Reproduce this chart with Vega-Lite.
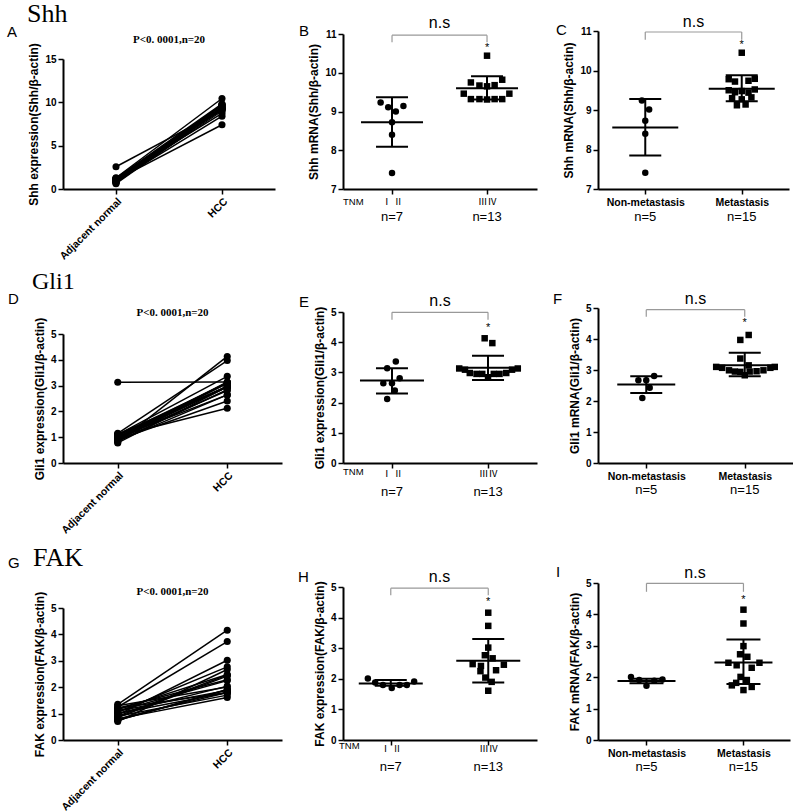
{
"$schema":"https://vega.github.io/schema/vega-lite/v6.json",
"background":"white",
"padding":{"left":7,"top":0,"right":0,"bottom":12},
"config":{
 "view":{"stroke":null},
 "font":"Liberation Sans",
 "axis":{"grid":false,"domainColor":"black","domainWidth":2,"tickColor":"black","tickWidth":1.5,"tickSize":5,"labelFont":"Liberation Sans","labelFontWeight":"bold","labelFontSize":10,"labelColor":"black","titleFont":"Liberation Sans","titleFontWeight":"bold","titleFontSize":12,"titleColor":"black","labelFlush":false,"labelOverlap":false,"labelBound":false,"titlePadding":4},
 "axisY":{"labelOverlap":false},
 "text":{"color":"black"}
},
"datasets":{
 "shhPair":[
  {"id":1,"g":0,"v":1.05},{"id":2,"g":0,"v":0.9},{"id":3,"g":0,"v":1.2},{"id":4,"g":0,"v":0.75},{"id":5,"g":0,"v":2.57},{"id":6,"g":0,"v":1.1},{"id":7,"g":0,"v":0.62},{"id":8,"g":0,"v":1.3},{"id":9,"g":0,"v":1.0},{"id":10,"g":0,"v":0.85},{"id":11,"g":0,"v":1.15},{"id":12,"g":0,"v":0.95},{"id":13,"g":0,"v":1.25},{"id":14,"g":0,"v":0.7},{"id":15,"g":0,"v":1.1},{"id":16,"g":0,"v":0.8},{"id":17,"g":0,"v":1.2},{"id":18,"g":0,"v":1.0},{"id":19,"g":0,"v":0.9},{"id":20,"g":0,"v":1.05},
  {"id":1,"g":1,"v":7.41},{"id":2,"g":1,"v":8.4},{"id":3,"g":1,"v":8.72},{"id":4,"g":1,"v":9.0},{"id":5,"g":1,"v":9.11},{"id":6,"g":1,"v":9.14},{"id":7,"g":1,"v":9.23},{"id":8,"g":1,"v":10.44},{"id":9,"g":1,"v":9.75},{"id":10,"g":1,"v":9.67},{"id":11,"g":1,"v":9.65},{"id":12,"g":1,"v":9.68},{"id":13,"g":1,"v":9.82},{"id":14,"g":1,"v":9.46},{"id":15,"g":1,"v":9.46},{"id":16,"g":1,"v":9.32},{"id":17,"g":1,"v":9.32},{"id":18,"g":1,"v":9.31},{"id":19,"g":1,"v":9.32},{"id":20,"g":1,"v":9.32}],
 "gliPair":[
  {"id":1,"g":0,"v":1.1},{"id":2,"g":0,"v":3.13},{"id":3,"g":0,"v":0.95},{"id":4,"g":0,"v":0.85},{"id":5,"g":0,"v":1.0},{"id":6,"g":0,"v":0.9},{"id":7,"g":0,"v":1.05},{"id":8,"g":0,"v":0.8},{"id":9,"g":0,"v":1.15},{"id":10,"g":0,"v":1.0},{"id":11,"g":0,"v":0.92},{"id":12,"g":0,"v":1.08},{"id":13,"g":0,"v":0.88},{"id":14,"g":0,"v":0.97},{"id":15,"g":0,"v":1.12},{"id":16,"g":0,"v":0.78},{"id":17,"g":0,"v":1.02},{"id":18,"g":0,"v":0.93},{"id":19,"g":0,"v":1.06},{"id":20,"g":0,"v":0.86},
  {"id":1,"g":1,"v":3.36},{"id":2,"g":1,"v":3.14},{"id":3,"g":1,"v":2.81},{"id":4,"g":1,"v":2.64},{"id":5,"g":1,"v":2.64},{"id":6,"g":1,"v":2.4},{"id":7,"g":1,"v":2.12},{"id":8,"g":1,"v":4.13},{"id":9,"g":1,"v":3.97},{"id":10,"g":1,"v":3.13},{"id":11,"g":1,"v":3.09},{"id":12,"g":1,"v":3.09},{"id":13,"g":1,"v":3.13},{"id":14,"g":1,"v":2.98},{"id":15,"g":1,"v":2.95},{"id":16,"g":1,"v":2.95},{"id":17,"g":1,"v":2.95},{"id":18,"g":1,"v":2.95},{"id":19,"g":1,"v":2.98},{"id":20,"g":1,"v":2.84}],
 "fakPair":[
  {"id":1,"g":0,"v":1.3},{"id":2,"g":0,"v":0.75},{"id":3,"g":0,"v":1.0},{"id":4,"g":0,"v":0.9},{"id":5,"g":0,"v":1.2},{"id":6,"g":0,"v":0.8},{"id":7,"g":0,"v":1.1},{"id":8,"g":0,"v":1.35},{"id":9,"g":0,"v":1.25},{"id":10,"g":0,"v":0.95},{"id":11,"g":0,"v":1.05},{"id":12,"g":0,"v":0.7},{"id":13,"g":0,"v":1.15},{"id":14,"g":0,"v":0.85},{"id":15,"g":0,"v":1.2},{"id":16,"g":0,"v":0.9},{"id":17,"g":0,"v":1.0},{"id":18,"g":0,"v":0.75},{"id":19,"g":0,"v":1.1},{"id":20,"g":0,"v":0.8},
  {"id":1,"g":1,"v":2.01},{"id":2,"g":1,"v":1.91},{"id":3,"g":1,"v":1.8},{"id":4,"g":1,"v":1.7},{"id":5,"g":1,"v":1.8},{"id":6,"g":1,"v":1.8},{"id":7,"g":1,"v":1.88},{"id":8,"g":1,"v":4.16},{"id":9,"g":1,"v":3.73},{"id":10,"g":1,"v":3.02},{"id":11,"g":1,"v":2.77},{"id":12,"g":1,"v":2.67},{"id":13,"g":1,"v":2.48},{"id":14,"g":1,"v":2.42},{"id":15,"g":1,"v":2.28},{"id":16,"g":1,"v":2.46},{"id":17,"g":1,"v":2.04},{"id":18,"g":1,"v":1.9},{"id":19,"g":1,"v":2.25},{"id":20,"g":1,"v":1.61}],
 "shhTNM":[
  {"x":-0.12,"v":9.23,"grp":"a"},{"x":-0.04,"v":9.11,"grp":"a"},{"x":0.12,"v":9.14,"grp":"a"},{"x":0.04,"v":9.0,"grp":"a"},{"x":0,"v":8.72,"grp":"a"},{"x":0,"v":8.4,"grp":"a"},{"x":0,"v":7.41,"grp":"a"},
  {"x":1.0,"v":10.44,"grp":"b"},{"x":0.83,"v":9.75,"grp":"b"},{"x":0.92,"v":9.67,"grp":"b"},{"x":1.0,"v":9.65,"grp":"b"},{"x":1.08,"v":9.68,"grp":"b"},{"x":1.16,"v":9.82,"grp":"b"},{"x":0.755,"v":9.46,"grp":"b"},{"x":1.235,"v":9.46,"grp":"b"},{"x":0.83,"v":9.32,"grp":"b"},{"x":0.92,"v":9.32,"grp":"b"},{"x":1.0,"v":9.31,"grp":"b"},{"x":1.08,"v":9.32,"grp":"b"},{"x":1.16,"v":9.32,"grp":"b"}],
 "shhMet":[
  {"x":-0.035,"v":9.24,"grp":"a"},{"x":0.04,"v":9.01,"grp":"a"},{"x":0,"v":8.73,"grp":"a"},{"x":0,"v":8.4,"grp":"a"},{"x":0,"v":7.41,"grp":"a"},
  {"x":1.0,"v":10.45,"grp":"b"},{"x":0.865,"v":9.78,"grp":"b"},{"x":0.93,"v":9.72,"grp":"b"},{"x":1.07,"v":9.74,"grp":"b"},{"x":1.135,"v":9.79,"grp":"b"},{"x":0.865,"v":9.5,"grp":"b"},{"x":0.93,"v":9.45,"grp":"b"},{"x":1.0,"v":9.48,"grp":"b"},{"x":1.07,"v":9.44,"grp":"b"},{"x":1.135,"v":9.52,"grp":"b"},{"x":0.9,"v":9.3,"grp":"b"},{"x":1.0,"v":9.27,"grp":"b"},{"x":1.1,"v":9.32,"grp":"b"},{"x":0.95,"v":9.12,"grp":"b"},{"x":1.04,"v":9.14,"grp":"b"}],
 "gliTNM":[
  {"x":0.04,"v":3.36,"grp":"a"},{"x":-0.05,"v":3.14,"grp":"a"},{"x":0.08,"v":2.81,"grp":"a"},{"x":-0.09,"v":2.64,"grp":"a"},{"x":0,"v":2.64,"grp":"a"},{"x":0.03,"v":2.4,"grp":"a"},{"x":-0.05,"v":2.12,"grp":"a"},
  {"x":0.965,"v":4.13,"grp":"b"},{"x":1.045,"v":3.97,"grp":"b"},{"x":0.7,"v":3.13,"grp":"b"},{"x":0.76,"v":3.09,"grp":"b"},{"x":1.25,"v":3.09,"grp":"b"},{"x":1.31,"v":3.13,"grp":"b"},{"x":0.81,"v":2.98,"grp":"b"},{"x":0.88,"v":2.95,"grp":"b"},{"x":0.94,"v":2.95,"grp":"b"},{"x":1.06,"v":2.95,"grp":"b"},{"x":1.12,"v":2.95,"grp":"b"},{"x":1.19,"v":2.98,"grp":"b"},{"x":1.0,"v":2.84,"grp":"b"}],
 "gliMet":[
  {"x":0.08,"v":2.81,"grp":"a"},{"x":-0.08,"v":2.67,"grp":"a"},{"x":0,"v":2.67,"grp":"a"},{"x":0.035,"v":2.43,"grp":"a"},{"x":-0.04,"v":2.1,"grp":"a"},
  {"x":1.04,"v":4.13,"grp":"b"},{"x":0.955,"v":3.97,"grp":"b"},{"x":0.955,"v":3.37,"grp":"b"},{"x":1.04,"v":3.15,"grp":"b"},{"x":0.71,"v":3.1,"grp":"b"},{"x":0.77,"v":3.07,"grp":"b"},{"x":1.26,"v":3.07,"grp":"b"},{"x":1.305,"v":3.1,"grp":"b"},{"x":0.84,"v":2.99,"grp":"b"},{"x":0.9,"v":2.95,"grp":"b"},{"x":0.955,"v":2.94,"grp":"b"},{"x":1.05,"v":2.95,"grp":"b"},{"x":1.12,"v":2.96,"grp":"b"},{"x":1.19,"v":2.99,"grp":"b"},{"x":1.0,"v":2.83,"grp":"b"}],
 "fakTNM":[
  {"x":-0.235,"v":2.01,"grp":"a"},{"x":-0.16,"v":1.88,"grp":"a"},{"x":-0.08,"v":1.8,"grp":"a"},{"x":0.01,"v":1.7,"grp":"a"},{"x":0.09,"v":1.8,"grp":"a"},{"x":0.165,"v":1.8,"grp":"a"},{"x":0.24,"v":1.91,"grp":"a"},
  {"x":1.0,"v":4.16,"grp":"b"},{"x":1.0,"v":3.73,"grp":"b"},{"x":1.0,"v":3.02,"grp":"b"},{"x":0.965,"v":2.77,"grp":"b"},{"x":1.045,"v":2.67,"grp":"b"},{"x":0.84,"v":2.48,"grp":"b"},{"x":0.925,"v":2.42,"grp":"b"},{"x":1.08,"v":2.28,"grp":"b"},{"x":1.16,"v":2.46,"grp":"b"},{"x":0.97,"v":2.04,"grp":"b"},{"x":1.035,"v":1.9,"grp":"b"},{"x":0.92,"v":2.25,"grp":"b"},{"x":1.0,"v":1.61,"grp":"b"}],
 "fakMet":[
  {"x":-0.16,"v":2.01,"grp":"a"},{"x":-0.075,"v":1.91,"grp":"a"},{"x":0,"v":1.73,"grp":"a"},{"x":0.08,"v":1.89,"grp":"a"},{"x":0.165,"v":1.93,"grp":"a"},
  {"x":1.0,"v":4.15,"grp":"b"},{"x":1.0,"v":3.71,"grp":"b"},{"x":1.0,"v":2.99,"grp":"b"},{"x":0.965,"v":2.73,"grp":"b"},{"x":1.04,"v":2.65,"grp":"b"},{"x":0.845,"v":2.46,"grp":"b"},{"x":0.93,"v":2.38,"grp":"b"},{"x":1.085,"v":2.3,"grp":"b"},{"x":1.165,"v":2.46,"grp":"b"},{"x":0.97,"v":2.01,"grp":"b"},{"x":1.035,"v":1.91,"grp":"b"},{"x":0.925,"v":1.82,"grp":"b"},{"x":1.085,"v":1.69,"grp":"b"},{"x":1.0,"v":1.59,"grp":"b"},{"x":0.88,"v":1.74,"grp":"b"}],
 "shhTNMsum":[{"g":0,"mean":8.72,"lo":8.09,"hi":9.37},{"g":1,"mean":9.6,"lo":9.31,"hi":9.91}],
 "shhMetSum":[{"g":0,"mean":8.56,"lo":7.85,"hi":9.28},{"g":1,"mean":9.54,"lo":9.22,"hi":9.88}],
 "gliTNMsum":[{"g":0,"mean":2.73,"lo":2.3,"hi":3.14},{"g":1,"mean":3.15,"lo":2.75,"hi":3.55}],
 "gliMetSum":[{"g":0,"mean":2.53,"lo":2.26,"hi":2.8},{"g":1,"mean":3.15,"lo":2.8,"hi":3.56}],
 "fakTNMsum":[{"g":0,"mean":1.85,"lo":1.77,"hi":1.96},{"g":1,"mean":2.59,"lo":1.88,"hi":3.3}],
 "fakMetSum":[{"g":0,"mean":1.88,"lo":1.81,"hi":1.95},{"g":1,"mean":2.47,"lo":1.78,"hi":3.2}],
 "tnmN":[{"x":0,"t":"n=7"},{"x":1,"t":"n=13"}],
 "metN":[{"x":0,"t":"n=5"},{"x":1,"t":"n=15"}],
 "one":[{}]
},
"columns":3,
"align":"none",
"bounds":"flush",
"spacing":{"row":119,"column":61},
"concat":[
 {"width":212,"height":158,
  "layer":[
   {"data":{"name":"shhPair"},"mark":{"type":"line","color":"black","strokeWidth":1.5},
    "encoding":{"x":{"field":"g","type":"quantitative","scale":{"domain":[-0.5,1.5],"nice":false},"axis":{"title":null,"values":[0,1],"labelExpr":"datum.value == 0 ? 'Adjacent normal' : 'HCC'","labelAngle":-45,"labelAlign":"right","labelBaseline":"top","labelFontSize":10.5,"labelPadding":2}},
     "y":{"field":"v","type":"quantitative","scale":{"domain":[0,15],"range":[158,28],"nice":false},"axis":{"title":"Shh expression(Shh/β-actin)","values":[0,5,10,15],"tickCount":4,"labelOverlap":false}},
     "detail":{"field":"id","type":"nominal"}}},
   {"data":{"name":"shhPair"},"mark":{"type":"point","shape":"circle","filled":true,"color":"black","size":50,"opacity":1},
    "encoding":{"x":{"field":"g","type":"quantitative"},"y":{"field":"v","type":"quantitative"}}},
   {"data":{"name":"one"},"mark":{"type":"text","text":"P<0. 0001,n=20","font":"Liberation Serif","fontWeight":"bold","fontSize":11,"baseline":"alphabetic"},
    "encoding":{"x":{"datum":0.5},"y":{"datum":16.85}}},
   {"data":{"name":"one"},"mark":{"type":"text","text":"Shh","font":"Liberation Serif","fontSize":26,"align":"left","baseline":"alphabetic"},
    "encoding":{"x":{"datum":-0.84},"y":{"datum":19.27}}},
   {"data":{"name":"one"},"mark":{"type":"text","text":"A","font":"Liberation Sans","fontSize":15,"align":"left","baseline":"alphabetic"},
    "encoding":{"x":{"datum":-1.028},"y":{"datum":17.54}}}
  ]},
 {"width":194,"height":158,
  "layer":[
   {"data":{"name":"shhTNM"},"mark":{"type":"point","filled":true,"color":"black","size":42,"opacity":1},
    "encoding":{"x":{"field":"x","type":"quantitative","scale":{"domain":[-0.516,1.526],"nice":false},"axis":{"title":null,"values":[0,1],"labelExpr":"datum.value == 0 ? 'Ⅰ Ⅱ' : 'ⅢⅣ'","labelFont":"Noto Sans CJK SC","labelFontWeight":"normal","labelFontSize":9.5,"labelPadding":2}},
     "y":{"field":"v","type":"quantitative","scale":{"domain":[7,11],"range":[158,3],"nice":false,"zero":false},"axis":{"title":"Shh mRNA(Shh/β-actin)","values":[7,8,9,10,11],"tickCount":5,"labelOverlap":false}},
     "shape":{"field":"grp","type":"nominal","scale":{"domain":["a","b"],"range":["circle","square"]},"legend":null}}},
   {"data":{"name":"shhTNMsum"},"mark":{"type":"rule","color":"black","strokeWidth":2},"encoding":{"x":{"field":"g","type":"quantitative"},"y":{"field":"lo","type":"quantitative"},"y2":{"field":"hi"}}},
   {"data":{"name":"shhTNMsum"},"mark":{"type":"tick","orient":"horizontal","color":"black","size":62,"thickness":2,"opacity":1},"encoding":{"x":{"field":"g","type":"quantitative"},"y":{"field":"mean","type":"quantitative"}}},
   {"data":{"name":"shhTNMsum"},"mark":{"type":"tick","orient":"horizontal","color":"black","size":32,"thickness":2,"opacity":1},"encoding":{"x":{"field":"g","type":"quantitative"},"y":{"field":"lo","type":"quantitative"}}},
   {"data":{"name":"shhTNMsum"},"mark":{"type":"tick","orient":"horizontal","color":"black","size":32,"thickness":2,"opacity":1},"encoding":{"x":{"field":"g","type":"quantitative"},"y":{"field":"hi","type":"quantitative"}}},
   {"data":{"name":"one"},"mark":{"type":"rule","color":"#999999","strokeWidth":1.2},"encoding":{"x":{"datum":0},"x2":{"datum":1},"y":{"datum":10.97}}},
   {"data":{"name":"one"},"mark":{"type":"rule","color":"#999999","strokeWidth":1.2},"encoding":{"x":{"datum":0},"y":{"datum":10.79},"y2":{"datum":10.97}}},
   {"data":{"name":"one"},"mark":{"type":"rule","color":"#999999","strokeWidth":1.2},"encoding":{"x":{"datum":1},"y":{"datum":10.79},"y2":{"datum":10.97}}},
   {"data":{"name":"one"},"mark":{"type":"text","text":"n.s","font":"Liberation Sans","fontSize":16,"baseline":"alphabetic"},"encoding":{"x":{"datum":0.5},"y":{"datum":11.155}}},
   {"data":{"name":"one"},"mark":{"type":"text","text":"*","font":"Liberation Sans","fontSize":11,"baseline":"middle"},"encoding":{"x":{"datum":1},"y":{"datum":10.64}}},
   {"data":{"name":"tnmN"},"mark":{"type":"text","font":"Liberation Sans Narrow, Liberation Sans","fontSize":13,"baseline":"middle","dy":28},"encoding":{"x":{"field":"x","type":"quantitative"},"y":{"datum":7},"text":{"field":"t"}}},
   {"data":{"name":"one"},"mark":{"type":"text","text":"TNM","font":"Liberation Sans Narrow, Liberation Sans","fontSize":9.5,"align":"left","baseline":"middle","dx":0,"dy":13},"encoding":{"x":{"datum":-0.516},"y":{"datum":7}}},
   {"data":{"name":"one"},"mark":{"type":"text","text":"B","font":"Liberation Sans","fontSize":15,"align":"left","baseline":"alphabetic"},"encoding":{"x":{"datum":-0.979},"y":{"datum":10.948}}}
  ]},
 {"width":191,"height":158,
  "layer":[
   {"data":{"name":"shhMet"},"mark":{"type":"point","filled":true,"color":"black","size":42,"opacity":1},
    "encoding":{"x":{"field":"x","type":"quantitative","scale":{"domain":[-0.49,1.49],"nice":false},"axis":{"title":null,"values":[0,1],"labelExpr":"datum.value == 0 ? 'Non-metastasis' : 'Metastasis'","labelFont":"Liberation Sans Narrow, Liberation Sans","labelFontSize":10.5,"labelPadding":3}},
     "y":{"field":"v","type":"quantitative","scale":{"domain":[7,11],"range":[158,0],"nice":false,"zero":false},"axis":{"title":"Shh mRNA(Shh/β-actin)","values":[7,8,9,10,11],"tickCount":5,"labelOverlap":false}},
     "shape":{"field":"grp","type":"nominal","scale":{"domain":["a","b"],"range":["circle","square"]},"legend":null}}},
   {"data":{"name":"shhMetSum"},"mark":{"type":"rule","color":"black","strokeWidth":2},"encoding":{"x":{"field":"g","type":"quantitative"},"y":{"field":"lo","type":"quantitative"},"y2":{"field":"hi"}}},
   {"data":{"name":"shhMetSum"},"mark":{"type":"tick","orient":"horizontal","color":"black","size":66,"thickness":2,"opacity":1},"encoding":{"x":{"field":"g","type":"quantitative"},"y":{"field":"mean","type":"quantitative"}}},
   {"data":{"name":"shhMetSum"},"mark":{"type":"tick","orient":"horizontal","color":"black","size":32,"thickness":2,"opacity":1},"encoding":{"x":{"field":"g","type":"quantitative"},"y":{"field":"lo","type":"quantitative"}}},
   {"data":{"name":"shhMetSum"},"mark":{"type":"tick","orient":"horizontal","color":"black","size":32,"thickness":2,"opacity":1},"encoding":{"x":{"field":"g","type":"quantitative"},"y":{"field":"hi","type":"quantitative"}}},
   {"data":{"name":"one"},"mark":{"type":"rule","color":"#999999","strokeWidth":1.2},"encoding":{"x":{"datum":0},"x2":{"datum":1},"y":{"datum":10.975}}},
   {"data":{"name":"one"},"mark":{"type":"rule","color":"#999999","strokeWidth":1.2},"encoding":{"x":{"datum":0},"y":{"datum":10.78},"y2":{"datum":10.975}}},
   {"data":{"name":"one"},"mark":{"type":"rule","color":"#999999","strokeWidth":1.2},"encoding":{"x":{"datum":1},"y":{"datum":10.78},"y2":{"datum":10.975}}},
   {"data":{"name":"one"},"mark":{"type":"text","text":"n.s","font":"Liberation Sans","fontSize":16,"baseline":"alphabetic"},"encoding":{"x":{"datum":0.5},"y":{"datum":11.11}}},
   {"data":{"name":"one"},"mark":{"type":"text","text":"*","font":"Liberation Sans","fontSize":11,"baseline":"middle"},"encoding":{"x":{"datum":1},"y":{"datum":10.65}}},
   {"data":{"name":"metN"},"mark":{"type":"text","font":"Liberation Sans Narrow, Liberation Sans","fontSize":13,"baseline":"middle","dy":28},"encoding":{"x":{"field":"x","type":"quantitative"},"y":{"datum":7},"text":{"field":"t"}}},
   {"data":{"name":"one"},"mark":{"type":"text","text":"C","font":"Liberation Sans","fontSize":15,"align":"left","baseline":"alphabetic"},"encoding":{"x":{"datum":-0.925},"y":{"datum":10.899}}}
  ]},
 {"width":219,"height":155,
  "layer":[
   {"data":{"name":"gliPair"},"mark":{"type":"line","color":"black","strokeWidth":1.5},
    "encoding":{"x":{"field":"g","type":"quantitative","scale":{"domain":[-0.5,1.5],"nice":false},"axis":{"title":null,"values":[0,1],"labelExpr":"datum.value == 0 ? 'Adjacent normal' : 'HCC'","labelAngle":-45,"labelAlign":"right","labelBaseline":"top","labelFontSize":10.5,"labelPadding":2}},
     "y":{"field":"v","type":"quantitative","scale":{"domain":[0,5],"range":[155,26],"nice":false},"axis":{"title":"Gli1 expression(Gli1/β-actin)","values":[0,1,2,3,4,5],"tickCount":6,"labelOverlap":false}},
     "detail":{"field":"id","type":"nominal"}}},
   {"data":{"name":"gliPair"},"mark":{"type":"point","shape":"circle","filled":true,"color":"black","size":50,"opacity":1},
    "encoding":{"x":{"field":"g","type":"quantitative"},"y":{"field":"v","type":"quantitative"}}},
   {"data":{"name":"one"},"mark":{"type":"text","text":"P<0. 0001,n=20","font":"Liberation Serif","fontWeight":"bold","fontSize":11,"baseline":"alphabetic"},
    "encoding":{"x":{"datum":0.5},"y":{"datum":5.7}}},
   {"data":{"name":"one"},"mark":{"type":"text","text":"Gli1","font":"Liberation Serif","fontSize":24,"align":"left","baseline":"alphabetic"},
    "encoding":{"x":{"datum":-0.783},"y":{"datum":6.744}}},
   {"data":{"name":"one"},"mark":{"type":"text","text":"D","font":"Liberation Sans","fontSize":15,"align":"left","baseline":"alphabetic"},
    "encoding":{"x":{"datum":-1.002},"y":{"datum":6.163}}}
  ]},
 {"width":194,"height":155,
  "layer":[
   {"data":{"name":"gliTNM"},"mark":{"type":"point","filled":true,"color":"black","size":42,"opacity":1},
    "encoding":{"x":{"field":"x","type":"quantitative","scale":{"domain":[-0.51,1.51],"nice":false},"axis":{"title":null,"values":[0,1],"labelExpr":"datum.value == 0 ? 'Ⅰ Ⅱ' : 'ⅢⅣ'","labelFont":"Noto Sans CJK SC","labelFontWeight":"normal","labelFontSize":9.5,"labelPadding":0}},
     "y":{"field":"v","type":"quantitative","scale":{"domain":[0,5],"range":[155,4],"nice":false},"axis":{"title":"Gli1 expression(Gli1/β-actin)","values":[0,1,2,3,4,5],"tickCount":6,"labelOverlap":false}},
     "shape":{"field":"grp","type":"nominal","scale":{"domain":["a","b"],"range":["circle","square"]},"legend":null}}},
   {"data":{"name":"gliTNMsum"},"mark":{"type":"rule","color":"black","strokeWidth":2},"encoding":{"x":{"field":"g","type":"quantitative"},"y":{"field":"lo","type":"quantitative"},"y2":{"field":"hi"}}},
   {"data":{"name":"gliTNMsum"},"mark":{"type":"tick","orient":"horizontal","color":"black","size":64,"thickness":2,"opacity":1},"encoding":{"x":{"field":"g","type":"quantitative"},"y":{"field":"mean","type":"quantitative"}}},
   {"data":{"name":"gliTNMsum"},"mark":{"type":"tick","orient":"horizontal","color":"black","size":32,"thickness":2,"opacity":1},"encoding":{"x":{"field":"g","type":"quantitative"},"y":{"field":"lo","type":"quantitative"}}},
   {"data":{"name":"gliTNMsum"},"mark":{"type":"tick","orient":"horizontal","color":"black","size":32,"thickness":2,"opacity":1},"encoding":{"x":{"field":"g","type":"quantitative"},"y":{"field":"hi","type":"quantitative"}}},
   {"data":{"name":"one"},"mark":{"type":"rule","color":"#999999","strokeWidth":1.2},"encoding":{"x":{"datum":0},"x2":{"datum":1},"y":{"datum":4.99}}},
   {"data":{"name":"one"},"mark":{"type":"rule","color":"#999999","strokeWidth":1.2},"encoding":{"x":{"datum":0},"y":{"datum":4.74},"y2":{"datum":4.99}}},
   {"data":{"name":"one"},"mark":{"type":"rule","color":"#999999","strokeWidth":1.2},"encoding":{"x":{"datum":1},"y":{"datum":4.74},"y2":{"datum":4.99}}},
   {"data":{"name":"one"},"mark":{"type":"text","text":"n.s","font":"Liberation Sans","fontSize":16,"baseline":"alphabetic"},"encoding":{"x":{"datum":0.5},"y":{"datum":5.21}}},
   {"data":{"name":"one"},"mark":{"type":"text","text":"*","font":"Liberation Sans","fontSize":11,"baseline":"middle"},"encoding":{"x":{"datum":1},"y":{"datum":4.46}}},
   {"data":{"name":"tnmN"},"mark":{"type":"text","font":"Liberation Sans Narrow, Liberation Sans","fontSize":13,"baseline":"middle","dy":29},"encoding":{"x":{"field":"x","type":"quantitative"},"y":{"datum":0},"text":{"field":"t"}}},
   {"data":{"name":"one"},"mark":{"type":"text","text":"TNM","font":"Liberation Sans Narrow, Liberation Sans","fontSize":9.5,"align":"left","baseline":"middle","dx":0,"dy":9},"encoding":{"x":{"datum":-0.51},"y":{"datum":0}}},
   {"data":{"name":"one"},"mark":{"type":"text","text":"E","font":"Liberation Sans","fontSize":15,"align":"left","baseline":"alphabetic"},"encoding":{"x":{"datum":-0.968},"y":{"datum":5.166}}}
  ]},
 {"width":195,"height":155,
  "layer":[
   {"data":{"name":"gliMet"},"mark":{"type":"point","filled":true,"color":"black","size":42,"opacity":1},
    "encoding":{"x":{"field":"x","type":"quantitative","scale":{"domain":[-0.49,1.49],"nice":false},"axis":{"title":null,"values":[0,1],"labelExpr":"datum.value == 0 ? 'Non-metastasis' : 'Metastasis'","labelFont":"Liberation Sans Narrow, Liberation Sans","labelFontSize":10.5,"labelPadding":3}},
     "y":{"field":"v","type":"quantitative","scale":{"domain":[0,5],"range":[155,0],"nice":false},"axis":{"title":"Gli1 mRNA(Gli1/β-actin)","values":[0,1,2,3,4,5],"tickCount":6,"labelOverlap":false}},
     "shape":{"field":"grp","type":"nominal","scale":{"domain":["a","b"],"range":["circle","square"]},"legend":null}}},
   {"data":{"name":"gliMetSum"},"mark":{"type":"rule","color":"black","strokeWidth":2},"encoding":{"x":{"field":"g","type":"quantitative"},"y":{"field":"lo","type":"quantitative"},"y2":{"field":"hi"}}},
   {"data":{"name":"gliMetSum"},"mark":{"type":"tick","orient":"horizontal","color":"black","size":58,"thickness":2,"opacity":1},"encoding":{"x":{"field":"g","type":"quantitative"},"y":{"field":"mean","type":"quantitative"}}},
   {"data":{"name":"gliMetSum"},"mark":{"type":"tick","orient":"horizontal","color":"black","size":32,"thickness":2,"opacity":1},"encoding":{"x":{"field":"g","type":"quantitative"},"y":{"field":"lo","type":"quantitative"}}},
   {"data":{"name":"gliMetSum"},"mark":{"type":"tick","orient":"horizontal","color":"black","size":32,"thickness":2,"opacity":1},"encoding":{"x":{"field":"g","type":"quantitative"},"y":{"field":"hi","type":"quantitative"}}},
   {"data":{"name":"one"},"mark":{"type":"rule","color":"#999999","strokeWidth":1.2},"encoding":{"x":{"datum":0},"x2":{"datum":1},"y":{"datum":4.945}}},
   {"data":{"name":"one"},"mark":{"type":"rule","color":"#999999","strokeWidth":1.2},"encoding":{"x":{"datum":0},"y":{"datum":4.72},"y2":{"datum":4.945}}},
   {"data":{"name":"one"},"mark":{"type":"rule","color":"#999999","strokeWidth":1.2},"encoding":{"x":{"datum":1},"y":{"datum":4.72},"y2":{"datum":4.945}}},
   {"data":{"name":"one"},"mark":{"type":"text","text":"n.s","font":"Liberation Sans","fontSize":16,"baseline":"alphabetic"},"encoding":{"x":{"datum":0.5},"y":{"datum":5.13}}},
   {"data":{"name":"one"},"mark":{"type":"text","text":"*","font":"Liberation Sans","fontSize":11,"baseline":"middle"},"encoding":{"x":{"datum":1},"y":{"datum":4.52}}},
   {"data":{"name":"metN"},"mark":{"type":"text","font":"Liberation Sans Narrow, Liberation Sans","fontSize":13,"baseline":"middle","dy":27},"encoding":{"x":{"field":"x","type":"quantitative"},"y":{"datum":0},"text":{"field":"t"}}},
   {"data":{"name":"one"},"mark":{"type":"text","text":"F","font":"Liberation Sans","fontSize":15,"align":"left","baseline":"alphabetic"},"encoding":{"x":{"datum":-0.947},"y":{"datum":5.129}}}
  ]},
 {"width":219,"height":158,
  "layer":[
   {"data":{"name":"fakPair"},"mark":{"type":"line","color":"black","strokeWidth":1.5},
    "encoding":{"x":{"field":"g","type":"quantitative","scale":{"domain":[-0.5,1.5],"nice":false},"axis":{"title":null,"values":[0,1],"labelExpr":"datum.value == 0 ? 'Adjacent normal' : 'HCC'","labelAngle":-45,"labelAlign":"right","labelBaseline":"top","labelFontSize":10.5,"labelPadding":2}},
     "y":{"field":"v","type":"quantitative","scale":{"domain":[0,5],"range":[158,26],"nice":false},"axis":{"title":"FAK expression(FAK/β-actin)","values":[0,1,2,3,4,5],"tickCount":6,"labelOverlap":false}},
     "detail":{"field":"id","type":"nominal"}}},
   {"data":{"name":"fakPair"},"mark":{"type":"point","shape":"circle","filled":true,"color":"black","size":50,"opacity":1},
    "encoding":{"x":{"field":"g","type":"quantitative"},"y":{"field":"v","type":"quantitative"}}},
   {"data":{"name":"one"},"mark":{"type":"text","text":"P<0. 0001,n=20","font":"Liberation Serif","fontWeight":"bold","fontSize":11,"baseline":"alphabetic"},
    "encoding":{"x":{"datum":0.5},"y":{"datum":5.49}}},
   {"data":{"name":"one"},"mark":{"type":"text","text":"FAK","font":"Liberation Serif","fontSize":26,"align":"left","baseline":"alphabetic"},
    "encoding":{"x":{"datum":-0.774},"y":{"datum":6.59}}},
   {"data":{"name":"one"},"mark":{"type":"text","text":"G","font":"Liberation Sans","fontSize":15,"align":"left","baseline":"alphabetic"},
    "encoding":{"x":{"datum":-1.002},"y":{"datum":6.515}}}
  ]},
 {"width":194,"height":158,
  "layer":[
   {"data":{"name":"fakTNM"},"mark":{"type":"point","filled":true,"color":"black","size":42,"opacity":1},
    "encoding":{"x":{"field":"x","type":"quantitative","scale":{"domain":[-0.49,1.5],"nice":false},"axis":{"title":null,"values":[0,1],"labelExpr":"datum.value == 0 ? 'Ⅰ Ⅱ' : 'ⅢⅣ'","labelFont":"Noto Sans CJK SC","labelFontWeight":"normal","labelFontSize":9.5,"labelPadding":-2}},
     "y":{"field":"v","type":"quantitative","scale":{"domain":[0,5],"range":[158,5],"nice":false},"axis":{"title":"FAK expression(FAK/β-actin)","values":[0,1,2,3,4,5],"tickCount":6,"labelOverlap":false}},
     "shape":{"field":"grp","type":"nominal","scale":{"domain":["a","b"],"range":["circle","square"]},"legend":null}}},
   {"data":{"name":"fakTNMsum"},"mark":{"type":"rule","color":"black","strokeWidth":2},"encoding":{"x":{"field":"g","type":"quantitative"},"y":{"field":"lo","type":"quantitative"},"y2":{"field":"hi"}}},
   {"data":{"name":"fakTNMsum"},"mark":{"type":"tick","orient":"horizontal","color":"black","size":64,"thickness":2,"opacity":1},"encoding":{"x":{"field":"g","type":"quantitative"},"y":{"field":"mean","type":"quantitative"}}},
   {"data":{"name":"fakTNMsum"},"mark":{"type":"tick","orient":"horizontal","color":"black","size":32,"thickness":2,"opacity":1},"encoding":{"x":{"field":"g","type":"quantitative"},"y":{"field":"lo","type":"quantitative"}}},
   {"data":{"name":"fakTNMsum"},"mark":{"type":"tick","orient":"horizontal","color":"black","size":32,"thickness":2,"opacity":1},"encoding":{"x":{"field":"g","type":"quantitative"},"y":{"field":"hi","type":"quantitative"}}},
   {"data":{"name":"one"},"mark":{"type":"rule","color":"#999999","strokeWidth":1.2},"encoding":{"x":{"datum":0},"x2":{"datum":1},"y":{"datum":4.96}}},
   {"data":{"name":"one"},"mark":{"type":"rule","color":"#999999","strokeWidth":1.2},"encoding":{"x":{"datum":0},"y":{"datum":4.73},"y2":{"datum":4.96}}},
   {"data":{"name":"one"},"mark":{"type":"rule","color":"#999999","strokeWidth":1.2},"encoding":{"x":{"datum":1},"y":{"datum":4.73},"y2":{"datum":4.96}}},
   {"data":{"name":"one"},"mark":{"type":"text","text":"n.s","font":"Liberation Sans","fontSize":16,"baseline":"alphabetic"},"encoding":{"x":{"datum":0.5},"y":{"datum":5.16}}},
   {"data":{"name":"one"},"mark":{"type":"text","text":"*","font":"Liberation Sans","fontSize":11,"baseline":"middle"},"encoding":{"x":{"datum":1},"y":{"datum":4.5}}},
   {"data":{"name":"tnmN"},"mark":{"type":"text","font":"Liberation Sans Narrow, Liberation Sans","fontSize":13,"baseline":"middle","dy":27},"encoding":{"x":{"field":"x","type":"quantitative"},"y":{"datum":0},"text":{"field":"t"}}},
   {"data":{"name":"one"},"mark":{"type":"text","text":"TNM","font":"Liberation Sans Narrow, Liberation Sans","fontSize":9.5,"align":"left","baseline":"middle","dx":-4,"dy":6},"encoding":{"x":{"datum":-0.49},"y":{"datum":0}}},
   {"data":{"name":"one"},"mark":{"type":"text","text":"H","font":"Liberation Sans","fontSize":15,"align":"left","baseline":"alphabetic"},"encoding":{"x":{"datum":-0.952},"y":{"datum":5.163}}}
  ]},
 {"width":192,"height":158,
  "layer":[
   {"data":{"name":"fakMet"},"mark":{"type":"point","filled":true,"color":"black","size":42,"opacity":1},
    "encoding":{"x":{"field":"x","type":"quantitative","scale":{"domain":[-0.5,1.48],"nice":false},"axis":{"title":null,"values":[0,1],"labelExpr":"datum.value == 0 ? 'Non-metastasis' : 'Metastasis'","labelFont":"Liberation Sans Narrow, Liberation Sans","labelFontSize":10.5,"labelPadding":3}},
     "y":{"field":"v","type":"quantitative","scale":{"domain":[0,5],"range":[158,1],"nice":false},"axis":{"title":"FAK mRNA(FAK/β-actin)","values":[0,1,2,3,4,5],"tickCount":6,"labelOverlap":false}},
     "shape":{"field":"grp","type":"nominal","scale":{"domain":["a","b"],"range":["circle","square"]},"legend":null}}},
   {"data":{"name":"fakMetSum"},"mark":{"type":"rule","color":"black","strokeWidth":2},"encoding":{"x":{"field":"g","type":"quantitative"},"y":{"field":"lo","type":"quantitative"},"y2":{"field":"hi"}}},
   {"data":{"name":"fakMetSum"},"mark":{"type":"tick","orient":"horizontal","color":"black","size":58,"thickness":2,"opacity":1},"encoding":{"x":{"field":"g","type":"quantitative"},"y":{"field":"mean","type":"quantitative"}}},
   {"data":{"name":"fakMetSum"},"mark":{"type":"tick","orient":"horizontal","color":"black","size":34,"thickness":2,"opacity":1},"encoding":{"x":{"field":"g","type":"quantitative"},"y":{"field":"lo","type":"quantitative"}}},
   {"data":{"name":"fakMetSum"},"mark":{"type":"tick","orient":"horizontal","color":"black","size":34,"thickness":2,"opacity":1},"encoding":{"x":{"field":"g","type":"quantitative"},"y":{"field":"hi","type":"quantitative"}}},
   {"data":{"name":"one"},"mark":{"type":"rule","color":"#999999","strokeWidth":1.2},"encoding":{"x":{"datum":0},"x2":{"datum":1},"y":{"datum":4.99}}},
   {"data":{"name":"one"},"mark":{"type":"rule","color":"#999999","strokeWidth":1.2},"encoding":{"x":{"datum":0},"y":{"datum":4.72},"y2":{"datum":4.99}}},
   {"data":{"name":"one"},"mark":{"type":"rule","color":"#999999","strokeWidth":1.2},"encoding":{"x":{"datum":1},"y":{"datum":4.72},"y2":{"datum":4.99}}},
   {"data":{"name":"one"},"mark":{"type":"text","text":"n.s","font":"Liberation Sans","fontSize":16,"baseline":"alphabetic"},"encoding":{"x":{"datum":0.5},"y":{"datum":5.17}}},
   {"data":{"name":"one"},"mark":{"type":"text","text":"*","font":"Liberation Sans","fontSize":11,"baseline":"middle"},"encoding":{"x":{"datum":1},"y":{"datum":4.46}}},
   {"data":{"name":"metN"},"mark":{"type":"text","font":"Liberation Sans Narrow, Liberation Sans","fontSize":13,"baseline":"middle","dy":27},"encoding":{"x":{"field":"x","type":"quantitative"},"y":{"datum":0},"text":{"field":"t"}}},
   {"data":{"name":"one"},"mark":{"type":"text","text":"I","font":"Liberation Sans","fontSize":15,"align":"left","baseline":"alphabetic"},"encoding":{"x":{"datum":-0.933},"y":{"datum":5.191}}}
  ]}
]
}
